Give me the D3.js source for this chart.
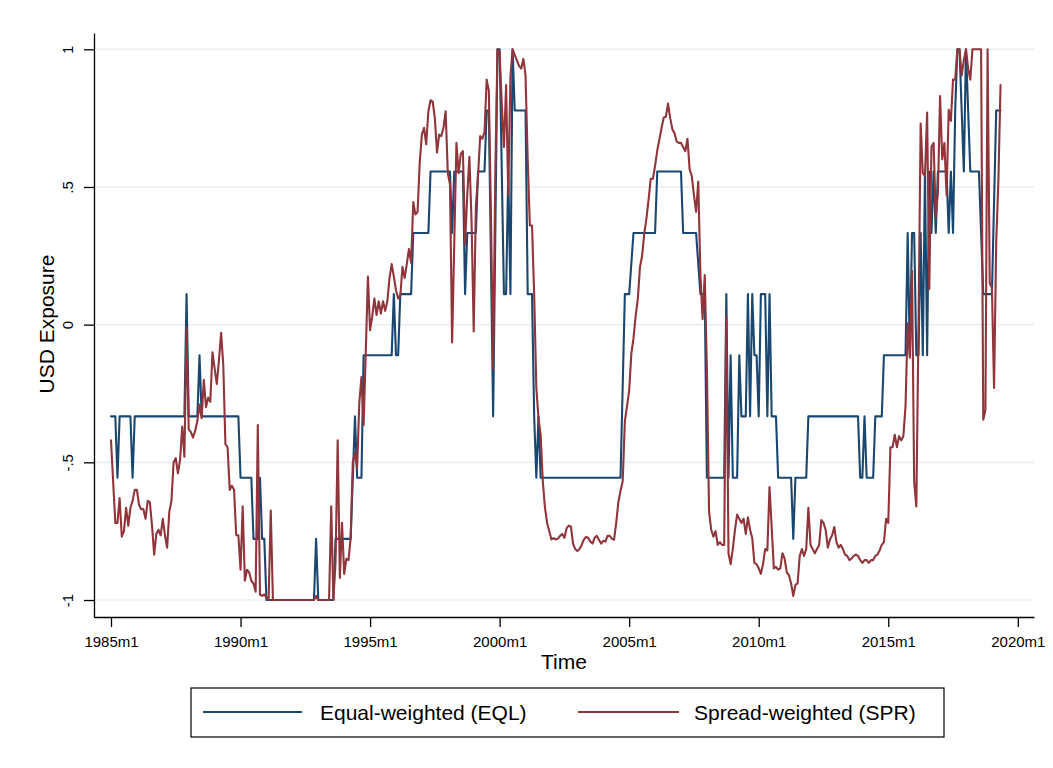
<!DOCTYPE html>
<html><head><meta charset="utf-8">
<script src="https://cdn.jsdelivr.net/npm/d3@7"></script>
<style>
body{margin:0;background:#fff}
svg{display:block}
text{font-family:"Liberation Sans",Arial,Helvetica,sans-serif;fill:#000}
</style>
</head><body>
<svg id="chart" width="1053" height="768"></svg>
<script>
// months counted from 1985m1 (= 0)
const xTickMonths = [0, 60, 120, 180, 240, 300, 360, 420];
const xTickLabels = ["1985m1","1990m1","1995m1","2000m1","2005m1","2010m1","2015m1","2020m1"];
const yTickValues = [-1, -0.5, 0, 0.5, 1];
const yTickLabels = ["-1", "-.5", "0", ".5", "1"];
const seriesNames = ["Equal-weighted (EQL)", "Spread-weighted (SPR)"];

const eqlPoints = [[0,-0.333],[2,-0.333],[3,-0.556],[4,-0.333],[9,-0.333],[10,-0.556],[11,-0.333],[34,-0.333],[35,0.111],[36,-0.333],[40,-0.333],[41,-0.111],[42,-0.333],[59,-0.333],[60,-0.556],[65,-0.556],[66,-0.778],[68,-0.778],[69,-0.556],[70,-0.778],[71,-0.778],[72,-1],[94,-1],[95,-0.778],[96,-1],[103,-1],[104,-0.778],[111,-0.778],[113,-0.333],[114,-0.556],[116,-0.556],[117,-0.111],[130,-0.111],[131,0.111],[132,-0.111],[133,-0.111],[134,0.111],[139,0.111],[140,0.333],[147,0.333],[148,0.556],[157,0.556],[158,0.333],[159,0.556],[163,0.556],[164,0.111],[165,0.333],[169,0.333],[170,0.556],[173,0.556],[174,0.778],[175,0.778],[177,-0.333],[179,1],[180,1],[182,0.111],[183,0.111],[184,0.556],[185,0.111],[186,1],[187,0.778],[192,0.778],[193,0.111],[195,0.111],[196,-0.333],[197,-0.556],[198,-0.333],[199,-0.556],[236,-0.556],[238,0.111],[240,0.111],[242,0.333],[252,0.333],[253,0.556],[264,0.556],[265,0.333],[271,0.333],[273,0.111],[275,0.111],[276,-0.556],[284,-0.556],[285,0.111],[286,-0.556],[287,-0.111],[288,-0.556],[290,-0.556],[291,-0.111],[292,-0.333],[294,-0.333],[295,0.111],[296,-0.333],[297,0.111],[298,-0.111],[299,-0.111],[300,-0.333],[301,0.111],[303,0.111],[304,-0.333],[305,0.111],[306,-0.333],[308,-0.333],[309,-0.556],[315,-0.556],[316,-0.778],[317,-0.556],[322,-0.556],[323,-0.333],[346,-0.333],[347,-0.556],[348,-0.556],[349,-0.333],[350,-0.556],[353,-0.556],[354,-0.333],[357,-0.333],[358,-0.111],[368,-0.111],[369,0.333],[370,-0.111],[371,0.333],[372,0.333],[373,-0.111],[374,-0.111],[375,0.333],[376,-0.111],[377,0.556],[378,-0.111],[379,0.556],[380,0.333],[381,0.556],[382,0.333],[383,0.556],[387,0.556],[388,0.333],[389,0.556],[390,0.333],[391,0.778],[392,1],[393,1],[394,0.778],[395,0.556],[396,1],[397,0.778],[398,0.556],[402,0.556],[404,0.111],[408,0.111],[410,0.778],[412,0.778]];

const sprPoints = [[0,-0.42],[2,-0.72],[3,-0.72],[4,-0.63],[5,-0.77],[6,-0.75],[7,-0.665],[8,-0.73],[9,-0.665],[10,-0.64],[11,-0.6],[12,-0.6],[13,-0.655],[14,-0.67],[15,-0.67],[16,-0.705],[17,-0.64],[18,-0.645],[19,-0.73],[20,-0.835],[21,-0.76],[22,-0.745],[23,-0.765],[24,-0.705],[25,-0.765],[26,-0.81],[27,-0.68],[28,-0.64],[29,-0.5],[30,-0.485],[31,-0.54],[32,-0.49],[33,-0.37],[34,-0.48],[35,-0.01],[36,-0.38],[37,-0.39],[38,-0.41],[39,-0.385],[40,-0.35],[41,-0.29],[42,-0.34],[43,-0.2],[44,-0.3],[45,-0.265],[46,-0.28],[47,-0.1],[48,-0.16],[49,-0.215],[50,-0.13],[51,-0.03],[52,-0.145],[53,-0.435],[54,-0.445],[55,-0.6],[56,-0.585],[57,-0.6],[58,-0.765],[59,-0.765],[60,-0.89],[61,-0.66],[62,-0.93],[63,-0.89],[64,-0.9],[65,-0.93],[66,-0.94],[67,-0.97],[68,-0.365],[69,-0.98],[70,-0.985],[71,-0.98],[72,-0.99],[73,-1],[74,-0.675],[75,-1],[94,-1],[95,-0.985],[96,-1],[101,-1],[102,-0.66],[103,-1],[104,-0.86],[105,-0.42],[106,-0.92],[107,-0.72],[108,-0.905],[109,-0.85],[110,-0.855],[111,-0.775],[112,-0.5],[113,-0.465],[114,-0.52],[115,-0.285],[116,-0.19],[117,-0.365],[118,-0.1],[119,0.175],[120,-0.02],[121,0.03],[122,0.095],[123,0.035],[124,0.085],[125,0.04],[126,0.085],[127,0.05],[128,0.085],[129,0.17],[130,0.22],[131,0.175],[132,0.125],[133,0.095],[134,0.105],[135,0.21],[136,0.17],[137,0.22],[138,0.275],[139,0.225],[140,0.445],[141,0.4],[142,0.41],[143,0.59],[144,0.69],[145,0.715],[146,0.655],[147,0.775],[148,0.815],[149,0.81],[150,0.75],[151,0.625],[152,0.69],[153,0.685],[154,0.715],[155,0.775],[156,0.55],[157,0.51],[158,-0.065],[159,0.3],[160,0.66],[161,0.55],[162,0.62],[163,0.63],[164,0.29],[165,0.47],[166,0.61],[167,0.375],[168,-0.025],[169,0.43],[170,0.54],[171,0.685],[172,0.675],[173,0.7],[174,0.89],[175,0.85],[176,0.39],[177,-0.16],[178,0.55],[179,1],[180,0.99],[181,0.8],[182,0.645],[183,0.87],[184,0.47],[185,0.9],[186,1],[187,0.98],[188,0.96],[189,0.94],[190,0.93],[191,0.965],[192,0.905],[193,0.6],[194,0.36],[195,0.36],[196,0.11],[197,-0.23],[198,-0.34],[199,-0.4],[200,-0.57],[201,-0.665],[202,-0.72],[203,-0.75],[204,-0.78],[205,-0.775],[206,-0.78],[207,-0.777],[208,-0.767],[209,-0.76],[210,-0.774],[211,-0.74],[212,-0.73],[213,-0.733],[214,-0.795],[215,-0.815],[216,-0.822],[217,-0.815],[218,-0.8],[219,-0.781],[220,-0.771],[221,-0.774],[222,-0.788],[223,-0.795],[224,-0.774],[225,-0.767],[226,-0.781],[227,-0.795],[228,-0.785],[229,-0.788],[230,-0.767],[231,-0.767],[232,-0.777],[233,-0.781],[234,-0.72],[235,-0.644],[236,-0.603],[237,-0.569],[238,-0.351],[239,-0.296],[240,-0.24],[241,-0.105],[242,-0.05],[243,0.031],[244,0.093],[245,0.209],[246,0.25],[247,0.332],[248,0.386],[249,0.455],[250,0.53],[251,0.53],[252,0.577],[253,0.632],[254,0.673],[255,0.714],[256,0.752],[257,0.755],[258,0.803],[259,0.75],[260,0.71],[261,0.695],[262,0.665],[263,0.66],[264,0.66],[265,0.645],[266,0.63],[267,0.675],[268,0.565],[269,0.54],[270,0.47],[271,0.41],[272,0.52],[273,0.18],[274,0.02],[275,0.18],[276,-0.16],[277,-0.68],[278,-0.745],[279,-0.77],[280,-0.75],[281,-0.8],[282,-0.79],[283,-0.8],[284,-0.8],[285,0.03],[286,-0.83],[287,-0.87],[288,-0.815],[289,-0.745],[290,-0.69],[291,-0.705],[292,-0.72],[293,-0.705],[294,-0.76],[295,-0.7],[296,-0.745],[297,-0.775],[298,-0.865],[299,-0.87],[300,-0.885],[301,-0.905],[302,-0.87],[303,-0.815],[304,-0.82],[305,-0.59],[306,-0.735],[307,-0.885],[308,-0.88],[309,-0.89],[310,-0.885],[311,-0.83],[312,-0.85],[313,-0.9],[314,-0.91],[315,-0.94],[316,-0.985],[317,-0.945],[318,-0.94],[319,-0.84],[320,-0.815],[321,-0.84],[322,-0.815],[323,-0.665],[324,-0.8],[325,-0.815],[326,-0.83],[327,-0.815],[328,-0.8],[329,-0.71],[330,-0.72],[331,-0.745],[332,-0.81],[333,-0.78],[334,-0.765],[335,-0.735],[336,-0.79],[337,-0.81],[338,-0.8],[339,-0.815],[340,-0.835],[341,-0.84],[342,-0.855],[343,-0.85],[344,-0.84],[345,-0.835],[346,-0.84],[347,-0.855],[348,-0.865],[349,-0.855],[350,-0.855],[351,-0.865],[352,-0.855],[353,-0.855],[354,-0.84],[355,-0.835],[356,-0.82],[357,-0.8],[358,-0.79],[359,-0.705],[360,-0.72],[361,-0.445],[362,-0.445],[363,-0.4],[364,-0.445],[365,-0.405],[366,-0.42],[367,-0.405],[368,-0.295],[369,0.005],[370,-0.12],[371,0.195],[372,-0.57],[373,-0.66],[374,-0.01],[375,0.73],[376,0.55],[377,0.54],[378,0.77],[379,0.13],[380,0.645],[381,0.66],[382,0.39],[383,0.48],[384,0.83],[385,0.6],[386,0.66],[387,0.47],[388,0.78],[389,0.74],[390,0.89],[391,0.89],[392,1],[393,1],[394,0.905],[395,0.96],[396,1],[397,0.93],[398,0.89],[399,1],[400,1],[401,1],[402,1],[403,1],[404,-0.345],[405,-0.31],[406,1],[407,0.15],[408,0.135],[409,-0.23],[410,0.3],[411,0.52],[412,0.87]];

const colors = ["#1a476f", "#90353b"];

const svg = d3.select("#chart");
svg.append("rect").attr("width", 1053).attr("height", 768).attr("fill", "#fff");

const x = d3.scaleLinear().domain([-7.87, 427.5]).range([94, 1034]);
const y = d3.scaleLinear().domain([-1.0617, 1.0592]).range([617, 33]);

// gridlines
svg.append("g").selectAll("line").data(yTickValues).join("line")
  .attr("x1", 94).attr("x2", 1034)
  .attr("y1", d => y(d)).attr("y2", d => y(d))
  .attr("stroke", "#e9eff2").attr("stroke-width", 1.6);

// lines
const line = d3.line().x(d => x(d[0])).y(d => y(d[1]));
[eqlPoints, sprPoints].forEach((pts, i) => {
  svg.append("path").datum(pts).attr("d", line)
    .attr("fill", "none").attr("stroke", colors[i]).attr("stroke-width", 2.1)
    .attr("stroke-linejoin", "round").attr("stroke-linecap", "round");
});

// y axis
const yAxis = svg.append("g").attr("transform", "translate(94,0)")
  .call(d3.axisLeft(y).tickValues(yTickValues).tickSize(10).tickSizeOuter(0)
    .tickFormat((d, i) => yTickLabels[i]));
yAxis.select(".domain").attr("stroke", "#000").attr("stroke-width", 1.3);
yAxis.selectAll(".tick line").attr("stroke", "#000").attr("stroke-width", 1.3);
yAxis.selectAll(".tick text")
  .attr("font-size", 15).attr("x", null).attr("dy", null)
  .attr("text-anchor", "middle")
  .attr("transform", "translate(-21,0) rotate(-90)");

// x axis
const xAxis = svg.append("g").attr("transform", "translate(0,617)")
  .call(d3.axisBottom(x).tickValues(xTickMonths).tickSize(10).tickSizeOuter(0)
    .tickFormat((d, i) => xTickLabels[i]));
xAxis.select(".domain").attr("stroke", "#000").attr("stroke-width", 1.3);
xAxis.selectAll(".tick line").attr("stroke", "#000").attr("stroke-width", 1.3);
xAxis.selectAll(".tick text").attr("font-size", 15).attr("y", 30).attr("dy", null);

// axis titles
svg.append("text").attr("x", 564).attr("y", 669).attr("text-anchor", "middle")
  .attr("font-size", 21).text("Time");
svg.append("text").attr("transform", "translate(54,324) rotate(-90)")
  .attr("text-anchor", "middle").attr("font-size", 21).text("USD Exposure");

// legend
const lg = svg.append("g");
lg.append("rect").attr("x", 191).attr("y", 688).attr("width", 753).attr("height", 49)
  .attr("fill", "#fff").attr("stroke", "#000").attr("stroke-width", 1.2);
const legendX = [[203, 302, 320], [578, 679, 694]];
seriesNames.forEach((name, i) => {
  lg.append("line").attr("x1", legendX[i][0]).attr("x2", legendX[i][1])
    .attr("y1", 712).attr("y2", 712).attr("stroke", colors[i]).attr("stroke-width", 2);
  lg.append("text").attr("x", legendX[i][2]).attr("y", 719.5)
    .attr("font-size", 21).text(name);
});
</script>
</body></html>
